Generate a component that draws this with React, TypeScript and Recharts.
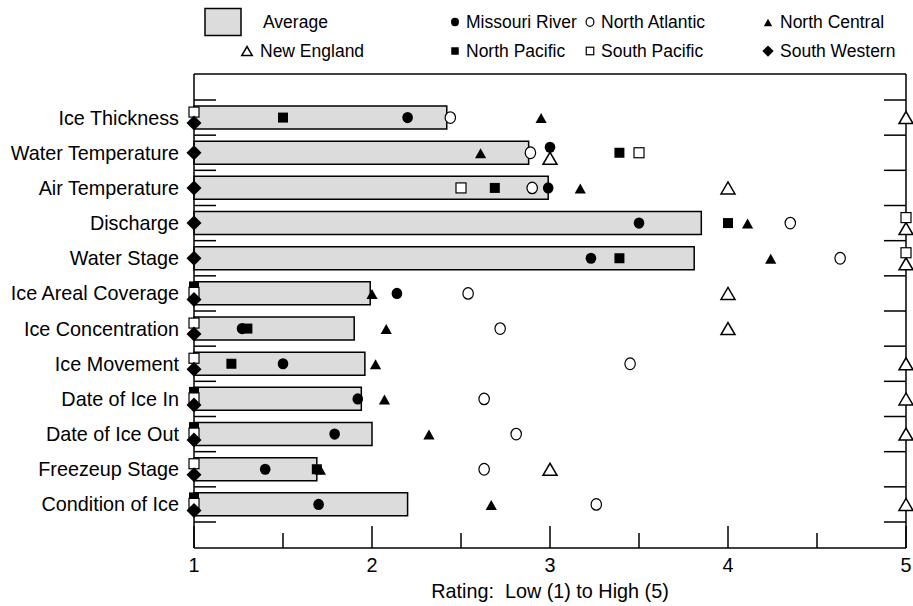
import { ComposedChart, Bar, Scatter, XAxis, YAxis, Legend } from 'recharts';

// River ice survey: importance rating of each ice parameter, by division

const categories = [
  'Ice Thickness',
  'Water Temperature',
  'Air Temperature',
  'Discharge',
  'Water Stage',
  'Ice Areal Coverage',
  'Ice Concentration',
  'Ice Movement',
  'Date of Ice In',
  'Date of Ice Out',
  'Freezeup Stage',
  'Condition of Ice',
];

const average = [2.42, 2.88, 2.99, 3.85, 3.81, 1.99, 1.9, 1.96, 1.94, 2.0, 1.69, 2.2];
const missouriRiver = [2.2, 3.0, 2.99, 3.5, 3.23, 2.14, 1.27, 1.5, 1.92, 1.79, 1.4, 1.7];
const northAtlantic = [2.44, 2.89, 2.9, 4.35, 4.63, 2.54, 2.72, 3.45, 2.63, 2.81, 2.63, 3.26];
const northCentral = [2.95, 2.61, 3.17, 4.11, 4.24, 2.0, 2.08, 2.02, 2.07, 2.32, 1.71, 2.67];
const newEngland = [5, 3.0, 4.0, 5, 5, 4.0, 4.0, 5, 5, 5, 3.0, 5];
const northPacific = [1.5, 3.39, 2.69, 4.0, 3.39, 1, 1.3, 1.21, 1, 1, 1.69, 1];
const southPacific = [1, 3.5, 2.5, 5, 5, 1, 1, 1, 1, 1, 1, 1];
const southWestern = [1, 1, 1, 1, 1, 1, 1, 1, 1, 1, 1, 1];

const xTicks = [1, 1.5, 2, 2.5, 3, 3.5, 4, 4.5, 5];

type Kind = 'dot' | 'ring' | 'triangle' | 'openTriangle' | 'square' | 'openSquare' | 'diamond';

const series: { key: string; name: string; kind: Kind; values: number[] }[] = [
  { key: 'missouri', name: 'Missouri River', kind: 'dot', values: missouriRiver },
  { key: 'northAtlantic', name: 'North Atlantic', kind: 'ring', values: northAtlantic },
  { key: 'northCentral', name: 'North Central', kind: 'triangle', values: northCentral },
  { key: 'newEngland', name: 'New England', kind: 'openTriangle', values: newEngland },
  { key: 'northPacific', name: 'North Pacific', kind: 'square', values: northPacific },
  { key: 'southPacific', name: 'South Pacific', kind: 'openSquare', values: southPacific },
  { key: 'southWestern', name: 'South Western', kind: 'diamond', values: southWestern },
];

const rows = categories.map((name, i) => {
  const row: Record<string, any> = { name, average: average[i] };
  series.forEach((s) => (row[s.key] = s.values[i]));
  return row;
});

// when several divisions give the same rating they are nudged apart vertically
const STACK_ORDER = ['northPacific', 'southPacific', 'missouri', 'northAtlantic', 'northCentral', 'newEngland', 'southWestern'];
const STACK_OFFSETS: Record<number, number[]> = { 2: [-5.5, 5.5], 3: [-7, -1, 6] };

function stackOffset(row: Record<string, any>, key: string) {
  const same = STACK_ORDER.filter((k) => row[k] === row[key]);
  if (same.length < 2) return 0;
  const offs = STACK_OFFSETS[same.length] || STACK_OFFSETS[2];
  return offs[same.indexOf(key)] ?? 0;
}

const FONT = '"Liberation Sans", Arial, Helvetica, sans-serif';
const FONT_SIZE = 19.8;
const LEGEND_FONT_SIZE = 17.5;
const BAR_FILL = '#dcdcdc';

// the chart covers the whole window; coordinates below are window pixels
const W = 913;
const H = 606;
const PLOT = { left: 194, right: 906, top: 74, bottom: 548 };
const PAD = 26;
const BAND = (PLOT.bottom - PLOT.top - PAD * 2) / categories.length;

function Marker({ kind, x, y, s = 1 }: { kind: Kind; x: number; y: number; s?: number }) {
  switch (kind) {
    case 'dot':
      return <ellipse cx={x} cy={y} rx={5.3 * s} ry={5.6 * s} fill="#000" />;
    case 'ring':
      return <ellipse cx={x} cy={y} rx={5.2 * s} ry={5.8 * s} fill="#fff" stroke="#000" strokeWidth={1.2} />;
    case 'triangle': {
      const w = 5.6 * s;
      const h = 10 * s;
      const c = y + 0.5;
      return <polygon points={`${x - w},${c + h / 2} ${x + w},${c + h / 2} ${x},${c - h / 2}`} fill="#000" />;
    }
    case 'openTriangle': {
      const w = 7 * s;
      const h = 12 * s;
      return (
        <polygon
          points={`${x - w},${y + h / 2} ${x + w},${y + h / 2} ${x},${y - h / 2}`}
          fill="#fff"
          stroke="#000"
          strokeWidth={1.5}
        />
      );
    }
    case 'square':
      return <rect x={x - 5 * s} y={y - 5 * s} width={10 * s} height={10 * s} fill="#000" />;
    case 'openSquare':
      return <rect x={x - 5 * s} y={y - 5 * s} width={10 * s} height={10 * s} fill="#fff" stroke="#000" strokeWidth={1.2} />;
    case 'diamond':
      return <polygon points={`${x},${y - 7.5 * s} ${x + 7.5 * s},${y} ${x},${y + 7.5 * s} ${x - 7.5 * s},${y}`} fill="#000" />;
  }
  return null;
}

const shapeFor = (key: string, kind: Kind) => (props: any) => {
  const { cx, cy, payload } = props;
  if (cx == null || cy == null) return <g />;
  return <Marker kind={kind} x={cx} y={cy + stackOffset(payload, key)} />;
};

const textStyle = { fontFamily: FONT, fontSize: FONT_SIZE, fill: '#000' };
const legendTextStyle = { ...textStyle, fontSize: LEGEND_FONT_SIZE };

const LeftTick = (props: any) => {
  const { x, y, payload, index } = props;
  const half = BAND / 2;
  return (
    <g>
      <line x1={x} x2={x + 22} y1={y - half} y2={y - half} stroke="#000" strokeWidth={1.5} />
      {index === categories.length - 1 && (
        <line x1={x} x2={x + 22} y1={y + half} y2={y + half} stroke="#000" strokeWidth={1.5} />
      )}
      <text x={x - 15} y={y} dy={7} textAnchor="end" style={textStyle}>
        {payload.value}
      </text>
    </g>
  );
};

const RightTick = (props: any) => {
  const { x, y, index } = props;
  const half = BAND / 2;
  return (
    <g>
      <line x1={x} x2={x - 22} y1={y - half} y2={y - half} stroke="#000" strokeWidth={1.5} />
      {index === categories.length - 1 && (
        <line x1={x} x2={x - 22} y1={y + half} y2={y + half} stroke="#000" strokeWidth={1.5} />
      )}
    </g>
  );
};

const BottomTick = (props: any) => {
  const { x, y, payload } = props;
  const major = Number.isInteger(payload.value);
  return (
    <g>
      <line x1={x} x2={x} y1={y} y2={y - (major ? 22 : 15)} stroke="#000" strokeWidth={1.5} />
      {major && (
        <text x={x} y={y + 24} textAnchor="middle" style={textStyle}>
          {payload.value}
        </text>
      )}
    </g>
  );
};

const TopTick = (props: any) => {
  const { x, y, payload } = props;
  const major = Number.isInteger(payload.value);
  return <line x1={x} x2={x} y1={y} y2={y + (major ? 22 : 15)} stroke="#000" strokeWidth={1.5} />;
};

const AxisTitle = (props: any) => {
  const vb = props.viewBox || { x: PLOT.left, y: PLOT.bottom, width: PLOT.right - PLOT.left };
  return (
    <text x={vb.x + vb.width / 2} y={vb.y + 50} textAnchor="middle" style={{ ...textStyle, whiteSpace: 'pre' }}>
      {'Rating:  Low (1) to High (5)'}
    </text>
  );
};

// legend slots: marker x, text x, row y
const LEGEND_SLOTS: Record<string, [number, number, number]> = {
  missouri: [455, 466, 22],
  northAtlantic: [590, 601, 22],
  northCentral: [768, 780, 22],
  newEngland: [247, 260, 51],
  northPacific: [455, 466, 51],
  southPacific: [590, 601, 51],
  southWestern: [768, 780, 51],
};

const renderLegend = () => (
  <svg width={W} height={PLOT.top} style={{ display: 'block' }}>
    <rect x={205} y={8.5} width={36} height={27} fill={BAR_FILL} stroke="#000" strokeWidth={1.5} />
    <text x={263} y={22} dy={6.2} style={legendTextStyle}>
      Average
    </text>
    {series.map((s) => {
      const [mx, tx, ly] = LEGEND_SLOTS[s.key];
      return (
        <g key={s.key}>
          <Marker kind={s.kind} x={mx} y={ly} s={0.75} />
          <text x={tx} y={ly} dy={6.2} style={legendTextStyle}>
            {s.name}
          </text>
        </g>
      );
    })}
  </svg>
);

export default function App() {
  return (
    <div style={{ position: 'fixed', left: 0, top: 0, width: W, height: H, overflow: 'hidden', background: '#fff' }}>
      <ComposedChart
        width={W}
        height={H}
        data={rows}
        layout="vertical"
        margin={{ top: 0, right: 0, bottom: 0, left: 0 }}
      >
        <XAxis
          xAxisId="bottom"
          type="number"
          orientation="bottom"
          domain={[1, 5]}
          ticks={xTicks}
          interval={0}
          height={H - PLOT.bottom}
          tickSize={0}
          tickMargin={0}
          tickLine={false}
          tick={<BottomTick />}
          axisLine={{ stroke: '#000', strokeWidth: 1.5 }}
          label={<AxisTitle />}
        />
        <XAxis
          xAxisId="top"
          type="number"
          orientation="top"
          domain={[1, 5]}
          ticks={xTicks}
          interval={0}
          height={PLOT.top}
          tickSize={0}
          tickMargin={0}
          tickLine={false}
          tick={<TopTick />}
          axisLine={{ stroke: '#000', strokeWidth: 1.5 }}
        />
        <YAxis
          yAxisId="left"
          type="category"
          dataKey="name"
          orientation="left"
          width={PLOT.left}
          padding={{ top: PAD, bottom: PAD }}
          interval={0}
          tickSize={0}
          tickMargin={0}
          tickLine={false}
          tick={<LeftTick />}
          axisLine={{ stroke: '#000', strokeWidth: 1.5 }}
        />
        <YAxis
          yAxisId="right"
          type="category"
          dataKey="name"
          orientation="right"
          width={W - PLOT.right}
          padding={{ top: PAD, bottom: PAD }}
          interval={0}
          tickSize={0}
          tickMargin={0}
          tickLine={false}
          tick={<RightTick />}
          axisLine={{ stroke: '#000', strokeWidth: 1.5 }}
        />
        <Legend
          layout="horizontal"
          verticalAlign="middle"
          align="center"
          wrapperStyle={{ top: 0, left: 0, width: W, height: PLOT.top }}
          content={renderLegend}
        />
        <Bar
          xAxisId="bottom"
          yAxisId="left"
          dataKey="average"
          name="Average"
          barSize={23}
          fill={BAR_FILL}
          stroke="#000"
          strokeWidth={1.5}
          isAnimationActive={false}
        />
        {series.map((s) => (
          <Scatter
            key={s.key}
            xAxisId="bottom"
            yAxisId="left"
            dataKey={s.key}
            name={s.name}
            shape={shapeFor(s.key, s.kind)}
            isAnimationActive={false}
          />
        ))}
      </ComposedChart>
    </div>
  );
}
